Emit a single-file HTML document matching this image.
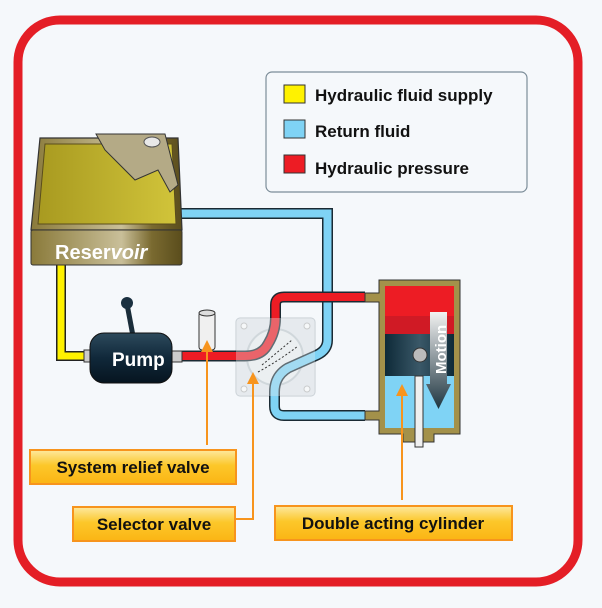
<!DOCTYPE html>
<html><head><meta charset="utf-8"><style>
html,body{margin:0;padding:0;background:#f5f8fb;}
svg{display:block;font-family:"Liberation Sans",Arial,sans-serif;}
</style></head><body>
<svg width="602" height="608" viewBox="0 0 602 608" xmlns="http://www.w3.org/2000/svg">
<defs>
<linearGradient id="lab" x1="0" y1="0" x2="0" y2="1"><stop offset="0" stop-color="#fde9a0"/><stop offset="0.45" stop-color="#fcc72a"/><stop offset="1" stop-color="#fbb514"/></linearGradient>
<linearGradient id="tan" x1="0" y1="0" x2="1" y2="0"><stop offset="0" stop-color="#8a7a3a"/><stop offset="0.6" stop-color="#c9bf99"/><stop offset="0.8" stop-color="#7a6a30"/><stop offset="1" stop-color="#5a4d1c"/></linearGradient>
<linearGradient id="oil" x1="0" y1="0" x2="1" y2="0"><stop offset="0" stop-color="#a89a20"/><stop offset="1" stop-color="#d1c43a"/></linearGradient>
<linearGradient id="pump" x1="0" y1="0" x2="0" y2="1"><stop offset="0" stop-color="#2d4a5c"/><stop offset="0.5" stop-color="#10283a"/><stop offset="1" stop-color="#06141f"/></linearGradient>
<linearGradient id="pis" x1="0" y1="0" x2="1" y2="0"><stop offset="0" stop-color="#0e2a38"/><stop offset="0.5" stop-color="#3a5868"/><stop offset="1" stop-color="#0e2a38"/></linearGradient>
<linearGradient id="mot" x1="0" y1="0" x2="0" y2="1"><stop offset="0" stop-color="#f2f2f2"/><stop offset="1" stop-color="#1e3540"/></linearGradient>
</defs>
<rect x="0" y="0" width="602" height="608" fill="#f5f8fb"/>
<rect x="18" y="20" width="560" height="562" rx="42" fill="#f5f8fb" stroke="#e41e26" stroke-width="9"/>

<!-- legend -->
<rect x="266" y="72" width="261" height="120" rx="6" fill="#f5f8fb" stroke="#7c8d99" stroke-width="1.2"/>
<rect x="284" y="85" width="21" height="18" fill="#fff200" stroke="#333"/>
<rect x="284" y="120" width="21" height="18" fill="#7fd3f5" stroke="#333"/>
<rect x="284" y="155" width="21" height="18" fill="#ed1c24" stroke="#333"/>
<g font-weight="bold" font-size="17" fill="#111">
<text x="315" y="101">Hydraulic fluid supply</text>
<text x="315" y="137">Return fluid</text>
<text x="315" y="174">Hydraulic pressure</text>
</g>

<!-- selector plate (behind pipes, translucent) -->
<rect x="236" y="318" width="79" height="78" rx="4" fill="#dfe4e8" fill-opacity="0.7" stroke="#c5ccd2"/>
<circle cx="275" cy="357" r="28" fill="#eef1f3" stroke="#c5ccd2" stroke-width="2"/>
<circle cx="244" cy="326" r="3" fill="#fff" stroke="#bbb"/><circle cx="307" cy="326" r="3" fill="#fff" stroke="#bbb"/>
<circle cx="244" cy="389" r="3" fill="#fff" stroke="#bbb"/><circle cx="307" cy="389" r="3" fill="#fff" stroke="#bbb"/>

<!-- blue return pipe -->
<path d="M178 213.5 H327.5 V340 Q327.5 350 317 355 L288 368 Q274.5 376 274.5 392 V406 Q274.5 415.5 284 415.5 H365" fill="none" stroke="#1a2a33" stroke-width="11"/>
<path d="M178 213.5 H327.5 V340 Q327.5 350 317 355 L288 368 Q274.5 376 274.5 392 V406 Q274.5 415.5 284 415.5 H365" fill="none" stroke="#7fd3f5" stroke-width="8"/>
<!-- red pressure pipe -->
<path d="M180 356 H245 Q262 356 268 344 Q275.5 332 275.5 318 V305 Q275.5 297 284 297 H365" fill="none" stroke="#1a2a33" stroke-width="11"/>
<path d="M180 356 H245 Q262 356 268 344 Q275.5 332 275.5 318 V305 Q275.5 297 284 297 H365" fill="none" stroke="#ed1c24" stroke-width="8"/>
<!-- translucent overlay over pipes inside valve -->
<rect x="236" y="318" width="79" height="78" rx="4" fill="#e6eaee" fill-opacity="0.35"/>
<path d="M262 365 Q280 350 292 340 M258 372 Q280 360 298 346" fill="none" stroke="#333" stroke-width="1" stroke-dasharray="2,2"/>
<!-- yellow supply -->
<path d="M61 262 V356 H84" fill="none" stroke="#222" stroke-width="10"/>
<path d="M61 262 V356 H84" fill="none" stroke="#fff200" stroke-width="7"/>

<!-- reservoir -->
<path d="M40 138 L178 138 L182 230 L31 230 Z" fill="url(#tan)" stroke="#333" stroke-width="1.2"/>
<path d="M45 144 L172 144 L176 224 L38 224 Z" fill="url(#oil)" stroke="#5a4d1c"/>
<path d="M96 134 L165 134 L178 185 L170 192 L158 170 L135 180 L105 150 Z" fill="#b4aa86" stroke="#333"/>
<ellipse cx="152" cy="142" rx="8" ry="5" fill="#e8e8e8" stroke="#555"/>
<rect x="31" y="230" width="151" height="35" rx="2" fill="url(#tan)" stroke="#333"/>
<text x="55" y="259" font-size="20" font-weight="bold" fill="#fff">Reser<tspan font-style="italic">voir</tspan></text>

<!-- pump -->
<line x1="127" y1="304" x2="133" y2="336" stroke="#1a2d3a" stroke-width="5"/>
<circle cx="127" cy="303" r="6" fill="#1a3040"/>
<rect x="84" y="350" width="12" height="12" fill="#ccc" stroke="#333"/>
<rect x="168" y="351" width="14" height="11" fill="#ccc" stroke="#333"/>
<rect x="90" y="333" width="82" height="50" rx="14" fill="url(#pump)" stroke="#111"/>
<text x="112" y="366" font-size="19" font-weight="bold" fill="#fff">Pump</text>

<!-- relief valve -->
<rect x="199" y="312" width="16" height="38" rx="3" fill="#f0f0f0" stroke="#333"/>
<ellipse cx="207" cy="313" rx="8" ry="3" fill="#ddd" stroke="#333"/>

<!-- cylinder -->
<path d="M379 280 H460 V434 H434 V442 H403 V434 H379 V420 H365 V411 H379 V302 H365 V293 H379 Z" fill="#a3914a" stroke="#333"/>
<rect x="385" y="286" width="69" height="48" fill="#ed1c24"/>
<rect x="385" y="316" width="69" height="18" fill="#c81a25" opacity="0.8"/>
<rect x="385" y="334" width="69" height="42" fill="url(#pis)"/>
<circle cx="420" cy="355" r="7" fill="#bbb" stroke="#333"/>
<rect x="385" y="376" width="69" height="52" fill="#7fd3f5"/>
<rect x="415" y="376" width="8" height="71" fill="#f0f0f0" stroke="#333"/>
<path d="M430 312 H447 V384 H451 L438.5 409 L426 384 H430 Z" fill="url(#mot)"/>
<text transform="translate(446,374) rotate(-90)" font-size="15" font-weight="bold" fill="#fff">Motion</text>

<!-- leaders -->
<g stroke="#f7941d" stroke-width="2" fill="none">
<path d="M207 445 V350"/>
<path d="M236 519 H253 V382"/>
<path d="M402 500 V394"/>
</g>
<g fill="#f7941d">
<path d="M207 340 L201 352 L213 352 Z"/>
<path d="M253 372 L247 384 L259 384 Z"/>
<path d="M402 384 L396 396 L408 396 Z"/>
</g>

<!-- labels -->
<g stroke="#f7941d" stroke-width="2" fill="url(#lab)">
<rect x="30" y="450" width="206" height="34"/>
<rect x="73" y="507" width="162" height="34"/>
<rect x="275" y="506" width="237" height="34"/>
</g>
<g font-weight="bold" font-size="17" fill="#111" text-anchor="middle">
<text x="133" y="473">System relief valve</text>
<text x="154" y="530">Selector valve</text>
<text x="393" y="529">Double acting cylinder</text>
</g>
</svg>
</body></html>
